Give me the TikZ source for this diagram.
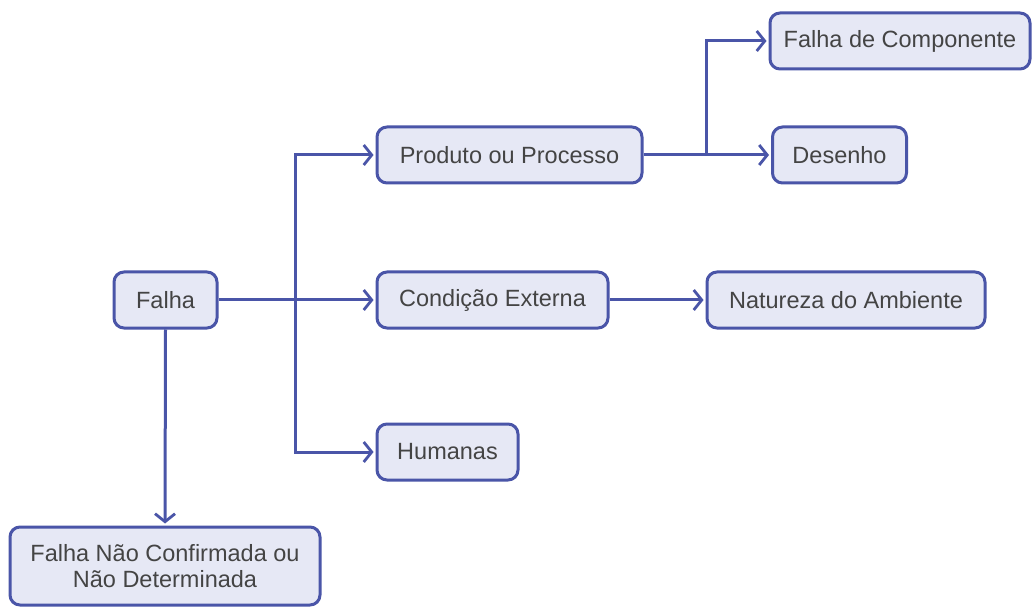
\documentclass[tikz,border=0pt]{standalone}
\usepackage{fontspec}
\setmainfont{Liberation Sans}
\usetikzlibrary{arrows.meta}
\definecolor{boxfill}{HTML}{E6E8F5}
\definecolor{boxline}{HTML}{4A55A8}
\definecolor{txt}{HTML}{444444}
\begin{document}
\begin{tikzpicture}[x=1pt,y=-1pt,
  box/.style={draw=boxline,fill=boxfill,line width=3pt,rounded corners=10pt,
    minimum height=56pt,inner sep=0pt,align=center,text=txt,
    font=\fontsize{23.5}{27}\selectfont},
  conn/.style={draw=boxline,line width=3pt},
  arr/.style={conn,-{Straight Barb[length=8pt,width=20pt,line width=2.8pt]},shorten >=2pt}]
\useasboundingbox (0,0) rectangle (1035,609);
\fill[white] (0,0) rectangle (1035,609);
\node[box,minimum width=103pt] (falha) at (165.5,300) {Falha};
\node[box,minimum width=265pt] (prod) at (509.5,155) {Produto ou Processo};
\node[box,minimum width=231pt] (cond) at (492.5,300) {Condição Externa};
\node[box,minimum width=141pt] (hum) at (447.5,452) {Humanas};
\node[box,minimum width=260pt] (comp) at (900,41) {Falha de Componente};
\node[box,minimum width=134pt] (des) at (839.5,155) {Desenho};
\node[box,minimum width=278pt] (nat) at (846,300) {Natureza do Ambiente};
\node[box,minimum width=310pt,minimum height=78pt] (nao) at (165,566) {Falha Não Confirmada ou\\[-1pt]Não Determinada};
\coordinate (trunk) at (295,0);
\coordinate (br) at (706,0);
\draw[conn] (falha.east) -- (trunk |- falha.east);
\draw[arr] (trunk |- falha.east) -- (cond.west);
\draw[arr] (trunk |- cond.west) |- (prod.west);
\draw[arr] (trunk |- cond.west) |- (hum.west);
\draw[arr] (prod.east) -- (des.west);
\draw[arr] (br |- prod.east) |- (comp.west);
\draw[arr] (cond.east) -- (nat.west);
\draw[arr] (falha.south) -- (nao.north);
\end{tikzpicture}
\end{document}
